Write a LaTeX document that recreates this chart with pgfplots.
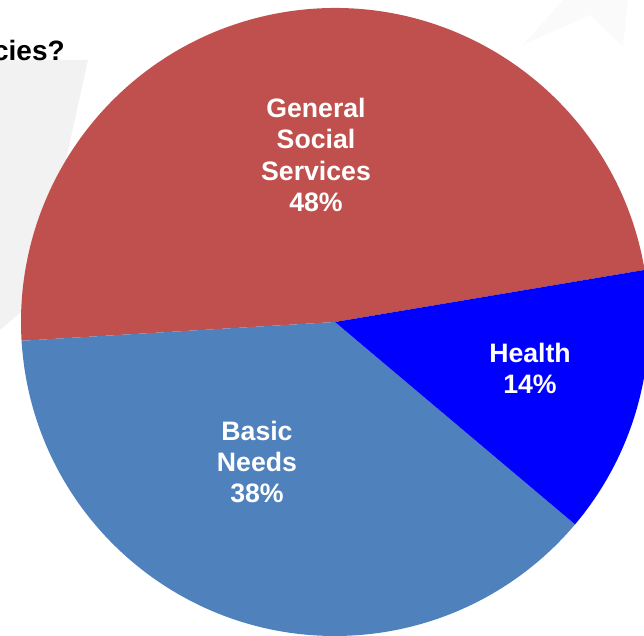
\documentclass[border=0pt]{standalone}
\usepackage{pgfplots}
\usepackage{pgfplotstable}
\usepackage{fontspec}
\setmainfont{Liberation Sans}
\pgfplotsset{compat=1.18}

\definecolor{gssred}{HTML}{C0504D}
\definecolor{basicblue}{HTML}{4F81BD}
\definecolor{healthblue}{HTML}{0000FF}
\definecolor{bgshape}{HTML}{F2F2F2}
\definecolor{bgfaint}{HTML}{FAFAFA}

% share of each slice, counter-clockwise
\pgfplotstableread{
value colour
48.3 gssred
37.9 basicblue
13.8 healthblue
}\piedata

% build the wedges once: centre (335,314), radius 314 units = 235.5pt
\def\piecx{335}
\def\piecy{314}
\def\pierad{235.5pt}
\xdef\acc{9.55}
\gdef\piepaths{}
\pgfplotsforeachungrouped \i in {0,1,2}{%
  \pgfplotstablegetelem{\i}{value}\of\piedata
  \pgfmathsetmacro\tmpend{\acc+3.6*\pgfplotsretval}%
  \pgfplotstablegetelem{\i}{colour}\of\piedata
  \xdef\piepaths{\piepaths
    \noexpand\fill[fill=\pgfplotsretval] (\piecx,\piecy) -- ++(\acc:\pierad)
      arc[start angle=\acc, end angle=\tmpend, radius=\pierad] -- cycle;}%
  \xdef\acc{\tmpend}%
}

\begin{document}
\begin{tikzpicture}
\begin{axis}[
    x=0.75pt, y=0.75pt,
    xmin=0, xmax=644, ymin=0, ymax=636,
    hide axis,
    clip=true,
  ]
  % faint background shapes of the slide
  \fill[bgshape] (0,576) -- (88,576) -- (35,336) -- (0,306) -- cycle;
  \fill[bgfaint] (523,591) -- (563,636) -- (628,636) -- (623,589) -- (590,621) -- cycle;
  \node[anchor=base east, inner sep=0pt, font=\bfseries\fontsize{21}{25}\selectfont] at (65,575) {cies?};

  \piepaths

  \begin{scope}[every node/.style={white, align=center,
      font=\bfseries\fontsize{20}{23.3}\selectfont}]
    \node at (316,481) {General\\Social\\Services\\48\%};
    \node at (530,268) {Health\\14\%};
    \node at (257,174) {Basic\\Needs\\38\%};
  \end{scope}
\end{axis}
\pgfresetboundingbox
\useasboundingbox (current axis.south west) rectangle (current axis.north east);
\end{tikzpicture}
\end{document}
